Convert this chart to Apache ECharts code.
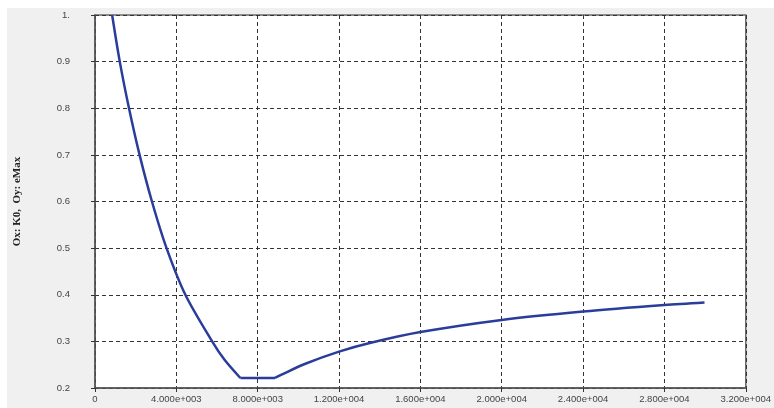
<!DOCTYPE html>
<html>
<head>
<meta charset="utf-8">
<script src="https://cdn.jsdelivr.net/npm/echarts@6/dist/echarts.min.js"></script>
<style>
  html, body { margin: 0; padding: 0; background: #ffffff; }
  #bg { position: absolute; left: 7px; top: 8px; width: 767px; height: 400px; background: #f0f0f0; }
  #chart { position: absolute; left: 0; top: 0; width: 774px; height: 408px; }
</style>
</head>
<body>
<div id="bg"></div>
<div id="chart"></div>
<script>
// K0 (x) and eMax (y) values, in three pieces of the curve
const fallK0 = [843, 1218, 1672, 2192, 2800, 3518, 4443, 5760, 6360, 7147];
const fallEMax = [1.0, 0.9, 0.8, 0.7, 0.6, 0.5, 0.4, 0.3, 0.261, 0.2215];
const flatK0 = [7147, 8853];
const flatEMax = [0.2215, 0.2215];
const riseK0 = [8853, 9174, 10313, 12000, 13560, 16000, 20000, 24000, 28000, 29970];
const riseEMax = [0.2215, 0.2286, 0.2515, 0.278, 0.297, 0.320, 0.346, 0.364, 0.378, 0.3835];

const xTickLabels = ['0', '4.000e+003', '8.000e+003', '1.200e+004', '1.600e+004', '2.000e+004', '2.400e+004', '2.800e+004', '3.200e+004'];
const yTickLabels = ['0.2', '0.3', '0.4', '0.5', '0.6', '0.7', '0.8', '0.9', '1.'];
const axisTitle = 'Ox: K0,  Oy: eMax';

const xMin = 0, xMax = 32000, xStep = 4000;
const yMin = 0.2, yMax = 1.0, yStep = 0.1;

const pairs = (xs, ys) => xs.map((x, i) => [x, ys[i]]);
const lineColor = '#2b3d9b';
const mkSeries = (data, smooth) => ({
  type: 'line', data: data, showSymbol: false, smooth: smooth, clip: true,
  lineStyle: { color: lineColor, width: 2.5 }
});

const chart = echarts.init(document.getElementById('chart'), null, { renderer: 'canvas' });
const dashed = { color: '#333', type: [4, 3], width: 1 };
chart.setOption({
  backgroundColor: 'transparent',
  animation: false,
  grid: {
    left: 95, right: 22, top: 15, bottom: 20,
    show: true, backgroundColor: '#ffffff', borderColor: '#6a6a6a', borderWidth: 1.5
  },
  xAxis: {
    type: 'value', min: xMin, max: xMax, interval: xStep,
    axisLine: { show: true, lineStyle: { color: '#555', width: 1.5 } },
    axisTick: { show: true, length: 4, lineStyle: dashed },
    splitLine: { show: true, lineStyle: dashed },
    axisLabel: {
      margin: 6, color: '#444', fontFamily: 'Liberation Sans', fontSize: 9.5,
      formatter: v => xTickLabels[Math.round((v - xMin) / xStep)] || ''
    }
  },
  yAxis: {
    type: 'value', min: yMin, max: yMax, interval: yStep,
    name: axisTitle, nameLocation: 'middle', nameGap: 72, nameRotate: 90,
    nameTextStyle: { fontFamily: 'Liberation Serif', fontWeight: 'bold', fontSize: 11, color: '#222' },
    axisLine: { show: true, lineStyle: { color: '#555', width: 1.5 } },
    axisTick: { show: true, length: 5, lineStyle: dashed },
    splitLine: { show: true, lineStyle: dashed },
    axisLabel: {
      margin: 25, color: '#444', fontFamily: 'Liberation Sans', fontSize: 9.5,
      formatter: v => yTickLabels[Math.round((v - yMin) / yStep)] || ''
    }
  },
  series: [
    mkSeries(pairs(fallK0, fallEMax), 0.3),
    mkSeries(pairs(flatK0, flatEMax), false),
    mkSeries(pairs(riseK0, riseEMax), 0.3)
  ]
});
</script>
</body>
</html>
